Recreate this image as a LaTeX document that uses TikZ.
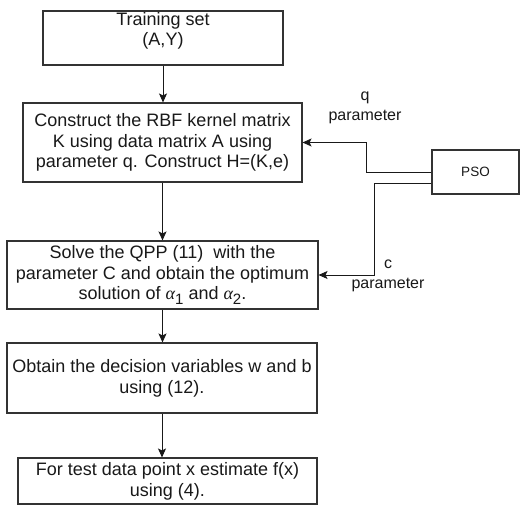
\documentclass[tikz,border=0pt]{standalone}
\usepackage{fontspec}
\setmainfont{Liberation Sans}
\newfontfamily\greekit{Liberation Serif}
\newcommand{\alphasub}[1]{{\greekit\itshape α}\raisebox{-0.25em}{\fontsize{15}{15}\selectfont #1}}
\usetikzlibrary{arrows.meta,calc}
\tikzset{
  box/.style={draw=black!80, line width=1.1pt, rectangle, inner sep=0pt, align=center,
    text=black!90, font=\fontsize{18}{20.7}\selectfont},
  arr/.style={draw=black!90, line width=0.9pt, -{Stealth[length=9pt,width=8pt,inset=2pt]}},
  lbl/.style={align=center, text=black!90, inner sep=0pt, font=\fontsize{16}{20}\selectfont}
}
\begin{document}
\begin{tikzpicture}[x=1pt,y=-1pt]
\useasboundingbox[fill=white] (0,0) rectangle (520,505);

% process steps
\node[box, minimum width=240, minimum height=54] (box1) at (163,38) {};
\node[box, draw=none, anchor=north] (t1) at ($(box1.north)+(0,1)$) {Training set\\(A,Y)};
\node[box, minimum width=279, minimum height=79] (box2) at (162.5,142.5)
  {Construct the RBF kernel matrix\\K using data matrix A using\\parameter q. Construct H=(K,e)};
\node[box, minimum width=311, minimum height=68] (box3) at (162.5,275)
  {Solve the QPP (11)\ \ with the\\parameter C and obtain the optimum\\solution of \alphasub{1} and \alphasub{2}.};
\node[box, minimum width=310, minimum height=70] (box4) at (162,378)
  {Obtain the decision variables w and b\\using (12).};
\node[box, minimum width=299, minimum height=46] (box5) at (167.5,481)
  {For test data point x estimate f(x)\\using (4).};

% optimiser
\node[box, minimum width=87, minimum height=44, font=\fontsize{13.5}{16}\selectfont] (pso) at (475.5,172) {PSO};

% main flow
\draw[arr] (box1.south) -- (box1.south |- box2.north);
\draw[arr] (box2.south) -- (box2.south |- box3.north);
\draw[arr] (box3.south) -- (box3.south |- box4.north);
\draw[arr] (box4.south) -- (box4.south |- box5.north);

% parameters fed back from PSO
\draw[arr] (pso.west) -- ++(-65,0) |- (box2.east);
\draw[arr] ([yshift=-11pt]pso.west) -- ++(-57,0) |- (box3.east);

\node[lbl] (qlbl) at (365,108) {q\\parameter};
\node[lbl] (clbl) at (388,276) {c\\parameter};
\end{tikzpicture}
\end{document}
